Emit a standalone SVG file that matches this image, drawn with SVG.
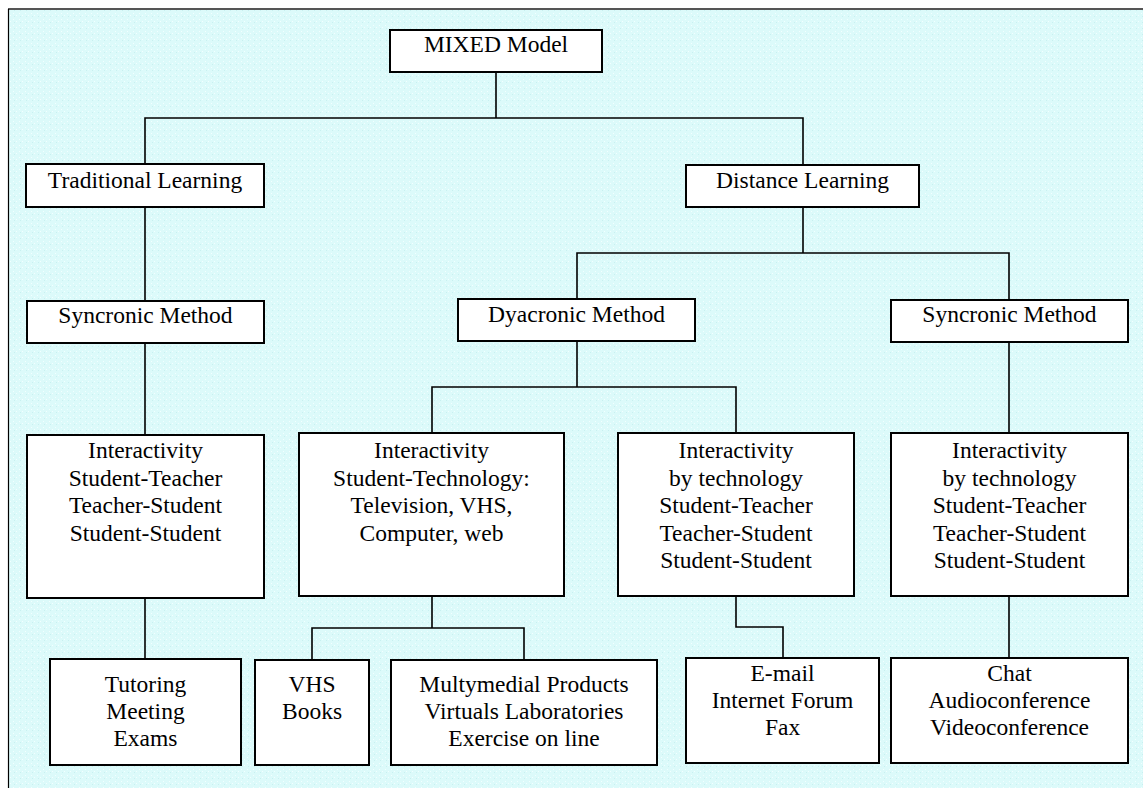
<svg xmlns="http://www.w3.org/2000/svg" width="1143" height="788" viewBox="0 0 1143 788">
<style>
.box{fill:#ffffff;stroke:#000000;stroke-width:2}
.t{font-family:"Liberation Serif","Times New Roman",serif;font-size:23.5px;fill:#000000;text-anchor:middle}
.c{fill:none;stroke:#000000;stroke-width:1.6}
</style>
<defs>
<pattern id="tex" width="6" height="6" patternUnits="userSpaceOnUse">
<rect width="6" height="6" fill="#dcfafa"/>
<rect x="1" y="1" width="1" height="1" fill="#f2ffff"/>
<rect x="4" y="3" width="1" height="1" fill="#f2ffff"/>
<rect x="2" y="4" width="1" height="1" fill="#c8f0f0"/>
</pattern>
</defs>
<rect x="0" y="0" width="1143" height="788" fill="#ffffff"/>
<rect x="8" y="9" width="1135" height="779" fill="url(#tex)"/>
<line x1="8" y1="9" x2="1143" y2="9" stroke="#555555" stroke-width="2"/>
<line x1="8.5" y1="9" x2="8.5" y2="788" stroke="#000000" stroke-width="1.2"/>
<g id="connectors">
<path class="c" d="M496,72 V118 M145,164 V118 H803 V165"/>
<path class="c" d="M145,207 V301 M145,343 V435 M145,598 V659"/>
<path class="c" d="M803,207 V253 M577,299 V253 H1009 V300"/>
<path class="c" d="M577,341 V387 M432,433 V387 H736 V433"/>
<path class="c" d="M1009,342 V433 M1009,596 V658"/>
<path class="c" d="M432,596 V628 M312,660 V628 H524 V660"/>
<path class="c" d="M736,596 V627 H783 V658"/>
</g>
<g id="mixed"><rect class="box" x="390" y="30" width="212" height="42"/><text class="t" x="496" y="52">MIXED Model</text></g>
<g id="traditional"><rect class="box" x="26" y="164" width="238" height="43"/><text class="t" x="145" y="188">Traditional Learning</text></g>
<g id="distance"><rect class="box" x="686" y="165" width="233" height="42"/><text class="t" x="802.5" y="188">Distance Learning</text></g>
<g id="sync-left"><rect class="box" x="27" y="301" width="237" height="42"/><text class="t" x="145.5" y="323">Syncronic Method</text></g>
<g id="dyacronic"><rect class="box" x="458" y="299" width="237" height="42"/><text class="t" x="576.5" y="322">Dyacronic Method</text></g>
<g id="sync-right"><rect class="box" x="891" y="300" width="237" height="42"/><text class="t" x="1009.5" y="322">Syncronic Method</text></g>
<g id="inter-left"><rect class="box" x="27" y="435" width="237" height="163"/>
<text class="t" x="145.5" y="458">Interactivity</text><text class="t" x="145.5" y="486">Student-Teacher</text><text class="t" x="145.5" y="513">Teacher-Student</text><text class="t" x="145.5" y="541">Student-Student</text></g>
<g id="inter-tech"><rect class="box" x="299" y="433" width="265" height="163"/>
<text class="t" x="431.5" y="458">Interactivity</text><text class="t" x="431.5" y="486">Student-Technology:</text><text class="t" x="431.5" y="513">Television, VHS,</text><text class="t" x="431.5" y="541">Computer, web</text></g>
<g id="inter-dya"><rect class="box" x="618" y="433" width="236" height="163"/>
<text class="t" x="736" y="458">Interactivity</text><text class="t" x="736" y="486">by technology</text><text class="t" x="736" y="513">Student-Teacher</text><text class="t" x="736" y="541">Teacher-Student</text><text class="t" x="736" y="568">Student-Student</text></g>
<g id="inter-sync"><rect class="box" x="891" y="433" width="237" height="163"/>
<text class="t" x="1009.5" y="458">Interactivity</text><text class="t" x="1009.5" y="486">by technology</text><text class="t" x="1009.5" y="513">Student-Teacher</text><text class="t" x="1009.5" y="541">Teacher-Student</text><text class="t" x="1009.5" y="568">Student-Student</text></g>
<g id="tutoring"><rect class="box" x="50" y="659" width="191" height="106"/>
<text class="t" x="145.5" y="692">Tutoring</text><text class="t" x="145.5" y="719">Meeting</text><text class="t" x="145.5" y="746">Exams</text></g>
<g id="vhs"><rect class="box" x="255" y="660" width="114" height="105"/>
<text class="t" x="312" y="692">VHS</text><text class="t" x="312" y="719">Books</text></g>
<g id="multimedia"><rect class="box" x="391" y="660" width="266" height="105"/>
<text class="t" x="524" y="692">Multymedial Products</text><text class="t" x="524" y="719">Virtuals Laboratories</text><text class="t" x="524" y="746">Exercise on line</text></g>
<g id="email"><rect class="box" x="686" y="658" width="193" height="105"/>
<text class="t" x="782.5" y="681">E-mail</text><text class="t" x="782.5" y="708">Internet Forum</text><text class="t" x="782.5" y="735">Fax</text></g>
<g id="chat"><rect class="box" x="891" y="658" width="237" height="105"/>
<text class="t" x="1009.5" y="681">Chat</text><text class="t" x="1009.5" y="708">Audioconference</text><text class="t" x="1009.5" y="735">Videoconference</text></g>
</svg>
